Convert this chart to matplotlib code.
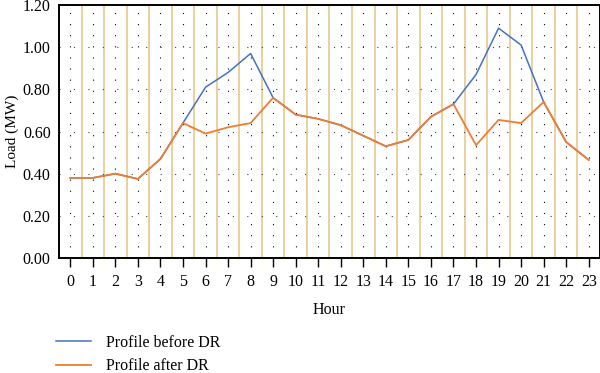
"""Load profile before and after demand response
"""

import numpy as np
from matplotlib import pyplot as plt

hours = list(range(24))
before_dr = [0.38, 0.38, 0.40, 0.375, 0.47, 0.64, 0.81, 0.88, 0.97, 0.76,
             0.68, 0.66, 0.63, 0.58, 0.53, 0.56, 0.67, 0.73, 0.87, 1.09,
             1.01, 0.74, 0.55, 0.465]
after_dr = [0.38, 0.38, 0.40, 0.375, 0.47, 0.64, 0.59, 0.62, 0.64, 0.76,
            0.68, 0.66, 0.63, 0.58, 0.53, 0.56, 0.67, 0.73, 0.535, 0.655,
            0.64, 0.74, 0.55, 0.465]
y_ticks = [0.0, 0.2, 0.4, 0.6, 0.8, 1.0, 1.2]

plt.rcParams['font.family'] = ['Liberation Serif', 'DejaVu Serif']
plt.rcParams['font.size'] = 11.5

fig = plt.figure(figsize=(6.0, 3.73), dpi=100)
ax = fig.add_axes([59 / 600, 1 - 258 / 373, 541 / 600, 253 / 373])

# background grid: gold separators between hours, dotted columns on hours
for h in hours[:-1]:
    ax.axvline(h + 0.5, color='#e6c88c', lw=1.2, zorder=1)
for h in hours:
    ax.axvline(h, color='black', lw=0.8, ls=(0, (1, 9)), zorder=1)
for y in y_ticks[1:-1]:
    ax.axhline(y, color='#444444', lw=0.8, ls=(0, (1, 12)), zorder=1)

ax.plot(hours, before_dr, color='#4472c4', lw=1.1, label='Profile before DR', zorder=3)
ax.plot(hours, after_dr, color='#ed7d31', lw=1.3, label='Profile after DR', zorder=4)

ax.set_xlim(-0.5, 23.5)
ax.set_ylim(0, 1.2)
ax.set_xticks(hours)
ax.set_yticks(y_ticks)
ax.set_yticklabels(['%.2f' % v for v in y_ticks])
ax.tick_params(axis='x', direction='out', length=6.5, width=1.0, pad=5)
ax.tick_params(axis='y', length=0, pad=6)
for s in ax.spines.values():
    s.set_linewidth(1.4)
ax.set_xlabel('Hour', labelpad=9)
ax.set_ylabel('Load (MW)', fontsize=11, va='center')
ax.yaxis.set_label_coords(-47 / 541, 0.5)

fig.legend(loc='center left', bbox_to_anchor=(56 / 600, 1 - 354.5 / 373),
           frameon=False, borderpad=0, borderaxespad=0, handlelength=2.2,
           handletextpad=0.9, labelspacing=0.5)

fig.savefig('out.png', dpi=100)
